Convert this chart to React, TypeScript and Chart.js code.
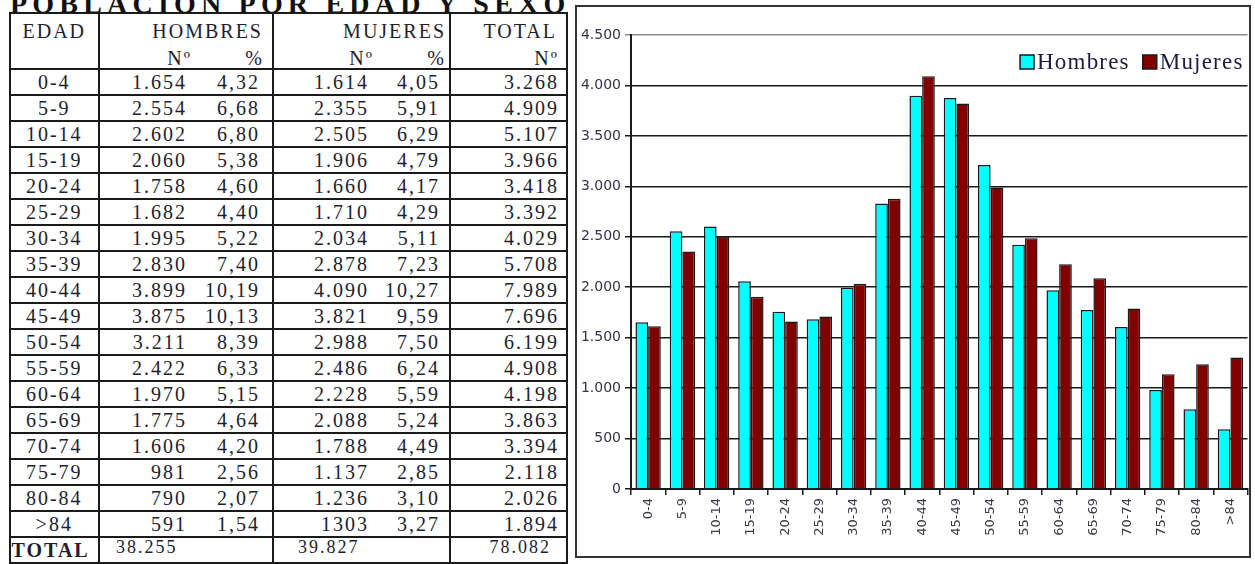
import React, { useEffect, useRef } from "react";
import { Chart, registerables } from "chart.js";

Chart.register(...registerables);

// ---- data ----
const ageGroups = ["0-4", "5-9", "10-14", "15-19", "20-24", "25-29", "30-34", "35-39", "40-44", "45-49", "50-54", "55-59", "60-64", "65-69", "70-74", "75-79", "80-84", ">84"];
const hombresTxt = ["1.654", "2.554", "2.602", "2.060", "1.758", "1.682", "1.995", "2.830", "3.899", "3.875", "3.211", "2.422", "1.970", "1.775", "1.606", "981", "790", "591"];
const hombresPct = ["4,32", "6,68", "6,80", "5,38", "4,60", "4,40", "5,22", "7,40", "10,19", "10,13", "8,39", "6,33", "5,15", "4,64", "4,20", "2,56", "2,07", "1,54"];
const mujeresTxt = ["1.614", "2.355", "2.505", "1.906", "1.660", "1.710", "2.034", "2.878", "4.090", "3.821", "2.988", "2.486", "2.228", "2.088", "1.788", "1.137", "1.236", "1303"];
const mujeresPct = ["4,05", "5,91", "6,29", "4,79", "4,17", "4,29", "5,11", "7,23", "10,27", "9,59", "7,50", "6,24", "5,59", "5,24", "4,49", "2,85", "3,10", "3,27"];
const totalTxt = ["3.268", "4.909", "5.107", "3.966", "3.418", "3.392", "4.029", "5.708", "7.989", "7.696", "6.199", "4.908", "4.198", "3.863", "3.394", "2.118", "2.026", "1.894"];
const grandTotals = ["38.255", "39.827", "78.082"];
const yTickLabels = ["0", "500", "1.000", "1.500", "2.000", "2.500", "3.000", "3.500", "4.000", "4.500"];
const seriesNames = ["Hombres", "Mujeres"];

const toNum = (s: string) => Number(s.replace(/\./g, ""));
const hombresVals = hombresTxt.map(toNum);
const mujeresVals = mujeresTxt.map(toNum);

const LINE = "#1a1a1a";
const B = `2px solid ${LINE}`;
const SERIF = '"Liberation Serif", "Times New Roman", serif';
const TXT = "#1e1e2e";

function Title() {
  return (
    <div
      style={{
        position: "absolute",
        left: 10,
        top: -10,
        font: `bold 28px ${SERIF}`,
        lineHeight: "28px",
        letterSpacing: "5.2px",
        whiteSpace: "nowrap",
        color: "#111",
      }}
    >
      POBLACION POR EDAD Y SEXO
    </div>
  );
}

function PopTable() {
  const cell: React.CSSProperties = {
    border: B,
    padding: 0,
    verticalAlign: "middle",
    whiteSpace: "nowrap",
  };
  const pair = (a: string, b: string, w1: number, w2: number) => (
    <div style={{ display: "flex" }}>
      <span style={{ width: w1, textAlign: "right", display: "inline-block" }}>{a}</span>
      <span style={{ width: w2, textAlign: "right", display: "inline-block" }}>{b}</span>
    </div>
  );
  return (
    <table
      style={{
        position: "absolute",
        left: 8.5,
        top: 12,
        borderCollapse: "collapse",
        tableLayout: "fixed",
        width: 559.5,
        font: `20px ${SERIF}`,
        letterSpacing: "2px",
        lineHeight: "20px",
        color: TXT,
      }}
    >
      <colgroup>
        <col style={{ width: 89.5 }} />
        <col style={{ width: 174 }} />
        <col style={{ width: 177 }} />
        <col style={{ width: 117 }} />
      </colgroup>
      <tbody>
        <tr style={{ height: 56 }}>
          <td style={{ ...cell, verticalAlign: "top", textAlign: "center", paddingTop: 7 }}>EDAD</td>
          <td style={{ ...cell, verticalAlign: "top", paddingTop: 7 }}>
            <div style={{ textAlign: "right", paddingRight: 9, height: 27 }}>HOMBRES</div>
            {pair("Nº", "%", 92, 72)}
          </td>
          <td style={{ ...cell, verticalAlign: "top", paddingTop: 7 }}>
            <div style={{ textAlign: "right", paddingRight: 3, height: 27 }}>MUJERES</div>
            {pair("Nº", "%", 100, 72)}
          </td>
          <td style={{ ...cell, verticalAlign: "top", paddingTop: 7 }}>
            <div style={{ textAlign: "right", paddingRight: 9, height: 27 }}>TOTAL</div>
            <div style={{ textAlign: "right", paddingRight: 7 }}>Nº</div>
          </td>
        </tr>
        {ageGroups.map((g, i) => (
          <tr key={g} style={{ height: 26 }}>
            <td style={{ ...cell, textAlign: "center" }}>{g}</td>
            <td style={cell}>{pair(hombresTxt[i], hombresPct[i], 87, 73)}</td>
            <td style={cell}>{pair(mujeresTxt[i], mujeresPct[i], 95, 71)}</td>
            <td style={{ ...cell, textAlign: "right", paddingRight: 7 }}>{totalTxt[i]}</td>
          </tr>
        ))}
        <tr style={{ height: 26 }}>
          <td style={{ ...cell, fontWeight: "bold", paddingLeft: 1 }}>TOTAL</td>
          <td style={{ ...cell, verticalAlign: "top", fontSize: 18, lineHeight: "18px", paddingLeft: 16 }}>{grandTotals[0]}</td>
          <td style={{ ...cell, verticalAlign: "top", fontSize: 18, lineHeight: "18px", paddingLeft: 24 }}>{grandTotals[1]}</td>
          <td style={{ ...cell, verticalAlign: "top", fontSize: 18, lineHeight: "18px", textAlign: "right", paddingRight: 15 }}>{grandTotals[2]}</td>
        </tr>
      </tbody>
    </table>
  );
}

// legend drawn inside the plot area, top right (as in the reference)
const insideLegend = {
  id: "insideLegend",
  afterDraw(chart: any) {
    const { ctx, chartArea } = chart;
    const ds = chart.data.datasets;
    ctx.save();
    ctx.font = `23px ${SERIF}`;
    try {
      (ctx as any).letterSpacing = "1.2px";
    } catch (e) {
      /* ignore */
    }
    ctx.textBaseline = "middle";
    const box = 14;
    const gap = 3;
    const itemGap = 13;
    const widths = ds.map((d: any) => box + gap + ctx.measureText(d.label).width);
    const total = widths.reduce((a: number, b: number) => a + b, 0) + itemGap * (ds.length - 1);
    let x = chartArea.right - 4 - total;
    const cy = chartArea.top + 27;
    ds.forEach((d: any, i: number) => {
      ctx.fillStyle = d.backgroundColor;
      ctx.fillRect(x, cy - box / 2, box, box);
      ctx.lineWidth = 1.5;
      ctx.strokeStyle = LINE;
      ctx.strokeRect(x, cy - box / 2, box, box);
      ctx.fillStyle = "#1c1c40";
      ctx.textAlign = "left";
      ctx.fillText(d.label, x + box + gap, cy + 1);
      x += widths[i] + itemGap;
    });
    ctx.restore();
  },
};

function PopChart() {
  const ref = useRef<HTMLCanvasElement | null>(null);
  useEffect(() => {
    if (!ref.current) return;
    const CH = 549;
    const chart = new Chart(ref.current, {
      type: "bar",
      data: {
        labels: ageGroups,
        datasets: [
          {
            label: seriesNames[0],
            data: hombresVals,
            backgroundColor: "#00ffff",
            borderColor: LINE,
            borderWidth: 1.5,
          },
          {
            label: seriesNames[1],
            data: mujeresVals,
            backgroundColor: "#800000",
            borderColor: LINE,
            borderWidth: 1.5,
          },
        ],
      },
      options: {
        responsive: false,
        animation: false,
        devicePixelRatio: 1,
        layout: { padding: { top: 28, left: 0, right: 0, bottom: 0 } },
        datasets: { bar: { categoryPercentage: 0.74, barPercentage: 1.0 } },
        scales: {
          x: {
            afterFit: (s: any) => {
              s.height = CH - 482;
            },
            grid: {
              drawOnChartArea: false,
              drawTicks: true,
              tickLength: 6,
              color: LINE,
              lineWidth: 1.5,
              offset: true,
            },
            border: { display: true, color: LINE, width: 2 },
            ticks: {
              minRotation: 90,
              maxRotation: 90,
              autoSkip: false,
              padding: 3,
              color: "#3a3a44",
              font: { family: '"DejaVu Sans", Verdana, sans-serif', size: 13 },
            },
          },
          y: {
            min: 0,
            max: 4500,
            afterFit: (s: any) => {
              s.width = 54;
            },
            afterBuildTicks: (s: any) => {
              s.ticks = yTickLabels.map((_, i) => ({ value: i * 500 }));
            },
            grid: {
              color: (ctx: any) => (ctx.tick && ctx.tick.value === 4500 ? "#8a8a8a" : LINE),
              lineWidth: 1.5,
              tickLength: 6,
            },
            border: { display: true, color: LINE, width: 2 },
            ticks: {
              padding: 4,
              color: "#33334a",
              font: { family: '"DejaVu Sans", Verdana, sans-serif', size: 14 },
              callback: (_v: any, i: number) => yTickLabels[i],
            },
          },
        },
        plugins: {
          tooltip: { enabled: false },
          legend: { display: false },
        },
      } as any,
      plugins: [insideLegend],
    });
    return () => chart.destroy();
  }, []);
  return (
    <div
      style={{
        position: "absolute",
        left: 575,
        top: 5,
        width: 676,
        height: 553,
        boxSizing: "border-box",
        border: "2px solid #333",
        background: "#fff",
      }}
    >
      <canvas ref={ref} width={672} height={549} style={{ display: "block", width: 672, height: 549 }} />
    </div>
  );
}

export default function App() {
  return (
    <div
      style={{
        position: "fixed",
        left: 0,
        top: 0,
        width: 1255,
        height: 564,
        overflow: "hidden",
        background: "#fff",
      }}
    >
      <Title />
      <PopTable />
      <PopChart />
    </div>
  );
}
